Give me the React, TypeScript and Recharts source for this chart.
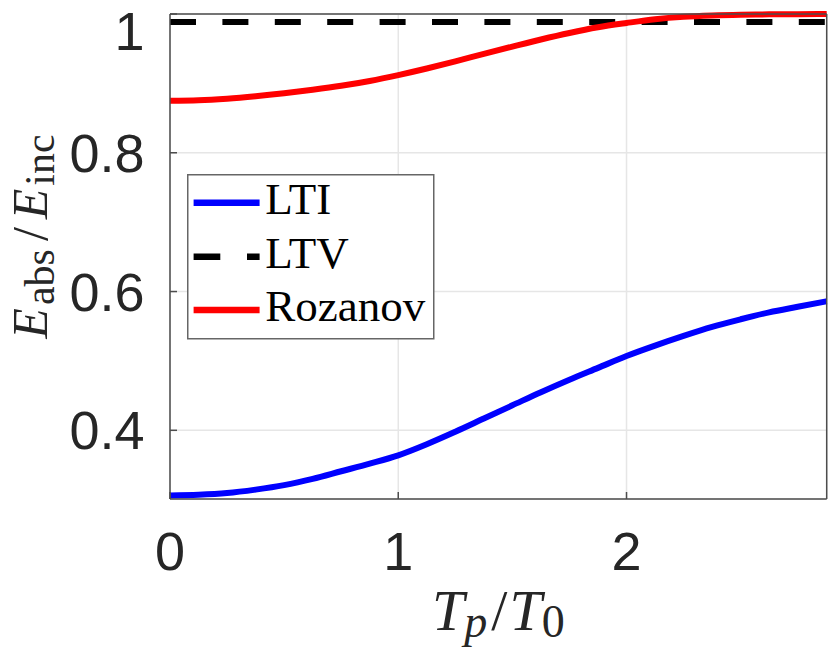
import { LineChart, Line, XAxis, YAxis, CartesianGrid, Legend } from 'recharts'

// T_p / T_0 sample points
const tRatio = [
  0, 0.125, 0.25, 0.375, 0.5, 0.625, 0.75, 0.875, 1, 1.125, 1.25, 1.375,
  1.5, 1.625, 1.75, 1.875, 2, 2.125, 2.25, 2.375, 2.5, 2.625, 2.75, 2.877,
]
const lti = [
  0.306, 0.307, 0.3095, 0.3145, 0.321, 0.33, 0.341, 0.352, 0.364, 0.38, 0.398, 0.417,
  0.436, 0.455, 0.473, 0.49, 0.507, 0.522, 0.536, 0.549, 0.56, 0.57, 0.578, 0.586,
]
const ltv = [
  0.9885, 0.9885, 0.9885, 0.9885, 0.9885, 0.9885, 0.9885, 0.9885, 0.9885, 0.9885, 0.9885, 0.9885,
  0.9885, 0.9885, 0.9885, 0.9885, 0.9885, 0.9885, 0.9885, 0.9885, 0.9885, 0.9885, 0.9885, 0.9885,
]
const rozanov = [
  0.875, 0.8757, 0.878, 0.8815, 0.8858, 0.8908, 0.8965, 0.9035, 0.912, 0.9215, 0.9318, 0.9425,
  0.953, 0.9633, 0.9727, 0.9808, 0.987, 0.9925, 0.996, 0.9979, 0.999, 0.9995, 0.9998, 1.0,
]

const xTicks = [0, 1, 2]
const yTicks = [0.4, 0.6, 0.8, 1]

const series = [
  { key: 'lti', name: 'LTI', color: '#0000ff', dash: undefined },
  { key: 'ltv', name: 'LTV', color: '#000000', dash: '26 26.4' },
  { key: 'rozanov', name: 'Rozanov', color: '#ff0000', dash: undefined },
]

const data = tRatio.map((t, i) => ({ t, lti: lti[i], ltv: ltv[i], rozanov: rozanov[i] }))

const AXIS = '#4d4d4d'
const TEXT = '#262626'
const tickFont = { fontFamily: 'Liberation Sans, Arial, sans-serif', fontSize: 54, fill: TEXT }
const serif = 'Liberation Serif, Times New Roman, serif'

function LegendBox() {
  const rows = [28.7, 82.7, 136]
  return (
    <svg width={248} height={166} style={{ display: 'block' }}>
      <rect x={0.75} y={0.75} width={246} height={164} fill="#fff" stroke="#666" strokeWidth={1.5} />
      {series.map((s, i) => (
        <g key={s.key}>
          <line x1={6.6} x2={72.6} y1={rows[i]} y2={rows[i]} stroke={s.color} strokeWidth={6.5}
            strokeDasharray={s.dash ? '26.7 26.7' : undefined} />
          <text x={78.3} y={rows[i] + 11} fontFamily={serif} fontSize={45} fill="#000">{s.name}</text>
        </g>
      ))}
    </svg>
  )
}

function XLabel(props: any) {
  const vb = props.viewBox
  return (
    <text x={vb.x + vb.width / 2} y={vb.y + 131} textAnchor="middle" fontFamily={serif} fontSize={58} fill={TEXT}>
      <tspan fontStyle="italic">T</tspan>
      <tspan fontStyle="italic" fontSize={46} dy={7}>p</tspan>
      <tspan dy={-7} dx={4}>/</tspan>
      <tspan fontStyle="italic" dx={2}>T</tspan>
      <tspan fontSize={46} dy={7}>0</tspan>
    </text>
  )
}

function YLabel(props: any) {
  const vb = props.viewBox
  const cx = vb.x + 47
  const cy = vb.y + vb.height / 2 - 20
  return (
    <text x={cx} y={cy} textAnchor="middle" transform={`rotate(-90 ${cx} ${cy})`} fontFamily={serif} fontSize={50} fill={TEXT}>
      <tspan fontStyle="italic">E</tspan>
      <tspan fontSize={42} dy={7} dx={3}>abs</tspan>
      <tspan dy={-7} dx={8}>/</tspan>
      <tspan fontStyle="italic" dx={8}>E</tspan>
      <tspan fontSize={42} dy={7} dx={3}>inc</tspan>
    </text>
  )
}

export default function App() {
  return (
    <div style={{ position: 'absolute', left: 0, top: 0, background: '#fff' }}>
      <LineChart width={830} height={649} data={data} margin={{ top: 0, right: 0, bottom: 0, left: 0 }}>
        <CartesianGrid stroke="#e6e6e6" strokeWidth={1.5} />
        <XAxis dataKey="t" type="number" domain={[0, 2.877]} ticks={xTicks} height={150}
          tickSize={-7} tickMargin={40} tick={tickFont}
          axisLine={{ stroke: AXIS, strokeWidth: 1.5 }} tickLine={{ stroke: AXIS, strokeWidth: 1.5 }}
          label={<XLabel />} />
        <XAxis xAxisId="top" orientation="top" dataKey="t" type="number" domain={[0, 2.877]} ticks={xTicks}
          height={14} tickSize={-7} tick={false}
          axisLine={{ stroke: AXIS, strokeWidth: 1.5 }} tickLine={{ stroke: AXIS, strokeWidth: 1.5 }} />
        <YAxis type="number" domain={[0.301, 1]} ticks={yTicks} width={170}
          tickSize={-7} tickMargin={32.5} tick={tickFont}
          tickFormatter={v => String(v)}
          axisLine={{ stroke: AXIS, strokeWidth: 1.5 }} tickLine={{ stroke: AXIS, strokeWidth: 1.5 }}
          label={<YLabel />} />
        <YAxis yAxisId="right" orientation="right" type="number" domain={[0.301, 1]} ticks={yTicks} width={3.3}
          tickSize={-7} tick={false}
          axisLine={{ stroke: AXIS, strokeWidth: 1.5 }} tickLine={{ stroke: AXIS, strokeWidth: 1.5 }} />
        <Legend layout="vertical" align="center" verticalAlign="middle" content={() => <LegendBox />}
          wrapperStyle={{ left: 186.7, top: 174, width: 248, height: 166 }} />
        {series.map(s => (
          <Line key={s.key} dataKey={s.key} name={s.name} type="monotone" stroke={s.color} strokeWidth={6}
            strokeDasharray={s.dash} strokeLinecap="butt" dot={false} activeDot={false} isAnimationActive={false} />
        ))}
      </LineChart>
    </div>
  )
}
